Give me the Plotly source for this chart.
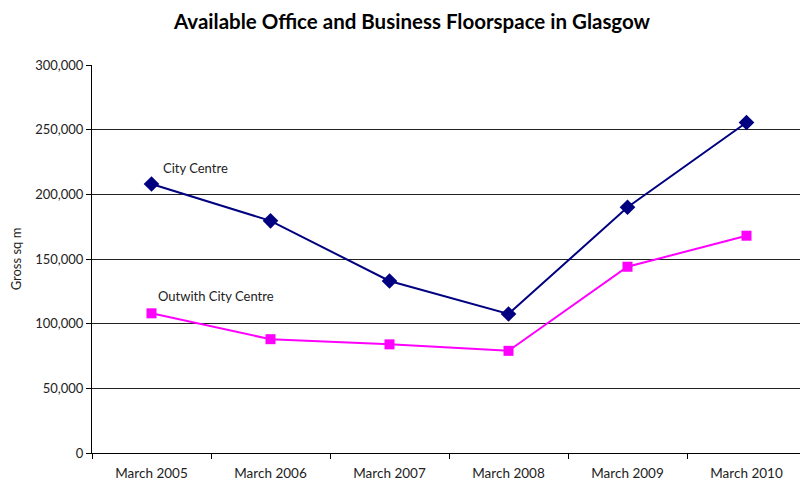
import plotly.graph_objects as go

categories = ["March 2005", "March 2006", "March 2007", "March 2008", "March 2009", "March 2010"]
city_centre = [208000, 179500, 133000, 107500, 190000, 255500]
outwith = [108000, 88000, 84000, 79000, 144000, 168000]
y_ticks = [0, 50000, 100000, 150000, 200000, 250000, 300000]
y_tick_labels = ["0", "50,000", "100,000", "150,000", "200,000", "250,000", "300,000"]

FONT = "Lato"

fig = go.Figure()
fig.add_trace(go.Scatter(
    x=categories, y=city_centre, mode="lines+markers", name="City Centre",
    line=dict(color="#000080", width=2),
    marker=dict(symbol="diamond", size=12, color="#000080"),
))
fig.add_trace(go.Scatter(
    x=categories, y=outwith, mode="lines+markers", name="Outwith City Centre",
    line=dict(color="#FF00FF", width=2),
    marker=dict(symbol="square", size=10, color="#FF00FF"),
))

fig.add_annotation(x=categories[0], y=city_centre[0], text="City Centre", showarrow=False,
                   xanchor="left", yanchor="bottom", xshift=9, yshift=6,
                   font=dict(family=FONT, size=13, color="#222"))
fig.add_annotation(x=categories[0], y=outwith[0], text="Outwith City Centre", showarrow=False,
                   xanchor="left", yanchor="bottom", xshift=4, yshift=7,
                   font=dict(family=FONT, size=13, color="#222"))

fig.add_shape(type="line", xref="paper", yref="paper", x0=1, x1=1, y0=0, y1=1,
              line=dict(color="#999", width=1))

fig.update_layout(
    width=808, height=485,
    margin=dict(l=84, r=10, t=57, b=40),
    paper_bgcolor="white", plot_bgcolor="white",
    showlegend=False,
    title=dict(text="<b>Available Office and Business Floorspace in Glasgow</b>",
               x=0.5, xanchor="center", y=0.972, yanchor="middle",
               font=dict(family=FONT, size=20.5, color="black", weight=900)),
    font=dict(family=FONT, size=13, color="#222"),
    xaxis=dict(type="category", range=[-0.5, 5.5], showgrid=False,
               showline=True, linecolor="black", linewidth=1,
               ticks="outside", tickson="boundaries", ticklen=5, tickcolor="black",
               ticklabelstandoff=8,
               tickfont=dict(size=13.5), automargin=False),
    yaxis=dict(range=[0, 300000], tickvals=y_ticks, ticktext=y_tick_labels,
               showgrid=True, gridcolor="#222", gridwidth=1,
               showline=True, linecolor="black", linewidth=1, zeroline=False,
               ticks="outside", ticklen=5, tickcolor="black",
               title=dict(text="Gross sq m", font=dict(size=13), standoff=10),
               tickfont=dict(size=13), automargin=False),
)

fig.write_html("out.html")
